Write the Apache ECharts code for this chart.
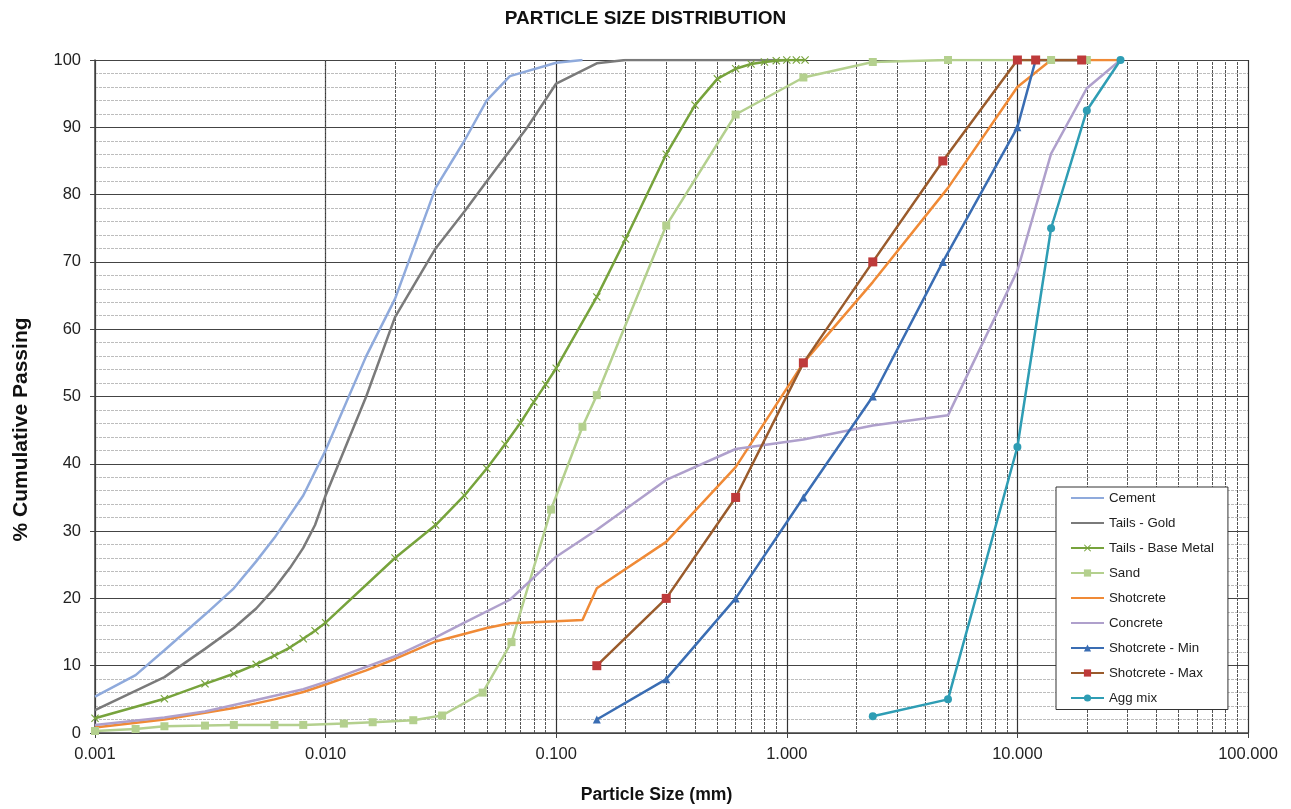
<!DOCTYPE html>
<html>
<head>
<meta charset="utf-8">
<script src="https://cdn.jsdelivr.net/npm/echarts@6/dist/echarts.min.js"></script>
<style>
html,body{margin:0;padding:0;background:#fff;}
#chart{width:1291px;height:809px;}
</style>
</head>
<body>
<div id="chart"></div>
<script>
// ---- data ----
var cementX = [0.001,0.0015,0.002,0.003,0.004,0.005,0.006,0.008,0.01,0.015,0.02,0.03,0.04,0.05,0.063,0.1,0.13];
var cementY = [5.4,8.6,12.3,17.6,21.5,25.5,29.0,35.3,42.0,56.0,64.5,81.0,88.0,94.0,97.6,99.6,100];

var goldX = [0.001,0.002,0.003,0.004,0.005,0.006,0.007,0.008,0.009,0.01,0.015,0.02,0.03,0.04,0.05,0.075,0.1,0.15,0.2,1.0];
var goldY = [3.4,8.3,12.5,15.6,18.5,21.5,24.5,27.5,30.9,35.3,50.0,61.8,72.0,77.5,82.0,90.0,96.5,99.5,100,100];

var baseX = [0.001,0.002,0.003,0.004,0.005,0.006,0.007,0.008,0.009,0.01,0.02,0.03,0.04,0.05,0.06,0.07,0.08,0.09,0.1,0.15,0.2,0.3,0.4,0.5,0.6,0.7,0.8,0.9,1.0,1.1,1.2];
var baseY = [2.2,5.1,7.3,8.8,10.2,11.5,12.7,14.0,15.2,16.4,26.0,30.9,35.3,39.3,42.9,46.1,49.2,51.8,54.2,64.8,73.4,86.0,93.3,97.2,98.7,99.4,99.7,99.9,100,100,100];

var sandX = [0.001,0.0015,0.002,0.003,0.004,0.006,0.008,0.012,0.016,0.024,0.032,0.048,0.064,0.095,0.13,0.15,0.3,0.6,1.18,2.36,5,14,20];
var sandY = [0.3,0.6,1.0,1.1,1.2,1.2,1.2,1.4,1.6,1.9,2.6,6.0,13.5,33.2,45.5,50.2,75.4,91.9,97.4,99.7,100,100,100];

var shotX = [0.001,0.002,0.003,0.004,0.005,0.006,0.008,0.01,0.015,0.02,0.03,0.05,0.063,0.1,0.13,0.15,0.3,0.6,1.18,2.36,5,10,14,20,28];
var shotY = [0.8,2.0,3.0,3.7,4.4,5.0,6.1,7.2,9.3,11.0,13.6,15.6,16.3,16.6,16.8,21.5,28.4,39.5,55.0,67.0,81.0,96.0,100,100,100];

var concX = [0.001,0.002,0.003,0.005,0.008,0.01,0.02,0.03,0.04,0.063,0.1,0.15,0.3,0.6,1.18,2.36,5,10,14,20,28];
var concY = [1.2,2.3,3.2,4.9,6.5,7.6,11.4,14.2,16.4,19.8,26.2,30.2,37.6,42.2,43.6,45.7,47.2,68.7,86.1,95.8,100];

var minX = [0.15,0.3,0.6,1.18,2.36,4.75,10,12,19];
var minY = [2,8,20,35,50,70,90,100,100];

var maxX = [0.15,0.3,0.6,1.18,2.36,4.75,10,12,19];
var maxY = [10,20,35,55,70,85,100,100,100];

var aggX = [2.36,5,10,14,20,28];
var aggY = [2.5,5,42.5,75,92.5,100];

var decades = [0.001,0.01,0.1,1,10];
var minorMultipliers = [2,3,4,5,6,7,8,9];
var yTicks = [0,10,20,30,40,50,60,70,80,90,100];

var legendNames = ['Cement','Tails - Gold','Tails - Base Metal','Sand','Shotcrete','Concrete','Shotcrete - Min','Shotcrete - Max','Agg mix'];
var noMarker = ['Cement','Tails - Gold','Shotcrete','Concrete'];

function pairs(xs, ys){ return xs.map(function(x,i){ return [x, ys[i]]; }); }

var minorLines = [];
decades.forEach(function(d){ minorMultipliers.forEach(function(m){ minorLines.push({xAxis: +(d*m).toPrecision(6)}); }); });

var xSymbol = 'path://M0,1L1,0L5,4L9,0L10,1L6,5L10,9L9,10L5,6L1,10L0,9L4,5Z';
var FONT = '"Liberation Sans", Arial, sans-serif';

function lineSeries(name, xs, ys, color, opts){
  var s = {
    name: name, type: 'line', data: pairs(xs, ys), z: 3,
    lineStyle: {color: color, width: 2.5},
    itemStyle: {color: color},
    symbol: 'none', showSymbol: false, animation: false
  };
  if (opts) for (var k in opts) s[k] = opts[k];
  return s;
}

var legendData = legendNames.map(function(n){
  return noMarker.indexOf(n) >= 0 ? {name: n, itemStyle: {opacity: 0}} : {name: n};
});

var chart = echarts.init(document.getElementById('chart'));
chart.setOption({
  backgroundColor: '#fff',
  animation: false,
  title: {
    text: 'PARTICLE SIZE DISTRIBUTION', left: 'center', top: 9,
    padding: [0, 0, 0, 9],
    textStyle: {fontFamily: FONT, fontSize: 19, fontWeight: 'bold', color: '#111'}
  },
  legend: {
    orient: 'vertical', left: 1056, top: 487, z: 20,
    backgroundColor: '#fff',
    borderColor: '#333', borderWidth: 1,
    padding: [4.5, 14, 5, 14],
    itemWidth: 33, itemHeight: 9, itemGap: 12,
    textStyle: {fontFamily: FONT, fontSize: 13.3, color: '#222'},
    data: legendData
  },
  grid: {left: 95, right: 43, top: 60, bottom: 69, containLabel: false},
  xAxis: {
    type: 'log', logBase: 10, min: 0.001, max: 100,
    name: 'Particle Size (mm)', nameLocation: 'middle', nameGap: 53,
    nameTextStyle: {fontFamily: FONT, fontSize: 17.6, fontWeight: 'bold', color: '#111', padding: [0, 30, 0, 0]},
    axisLine: {show: true, lineStyle: {color: '#444', width: 1.5}},
    axisTick: {show: true, length: 5, lineStyle: {color: '#444'}},
    axisLabel: {fontFamily: FONT, fontSize: 16.5, color: '#222', margin: 13,
      formatter: function(v){ return Number(v).toFixed(3); }},
    splitLine: {show: true, lineStyle: {color: '#333', width: 1.2}}
  },
  yAxis: {
    type: 'value', min: 0, max: 100, interval: 10,
    name: '% Cumulative Passing', nameLocation: 'middle', nameGap: 63,
    nameTextStyle: {fontFamily: FONT, fontSize: 21, fontWeight: 'bold', color: '#111', padding: [0, 66, 0, 0]},
    axisLine: {show: true, lineStyle: {color: '#444', width: 1.5}},
    axisTick: {show: true, length: 5, lineStyle: {color: '#444'}},
    axisLabel: {fontFamily: FONT, fontSize: 16.5, color: '#222', margin: 14},
    splitLine: {show: true, lineStyle: {color: '#444', width: 1.2}},
    minorTick: {show: false, splitNumber: 5},
    minorSplitLine: {show: true, lineStyle: {color: '#bdbdbd', width: 1, type: [3, 1]}}
  },
  series: [
    {
      name: 'gridMinor', type: 'line', data: [], z: 1, silent: true,
      markLine: {
        z: 1,
        silent: true, symbol: ['none','none'], animation: false,
        label: {show: false},
        lineStyle: {color: '#555', width: 1, type: [3, 1]},
        emphasis: {disabled: true},
        data: minorLines
      }
    },
    lineSeries('Cement', cementX, cementY, '#8FAADC'),
    lineSeries('Tails - Gold', goldX, goldY, '#7A7A7A'),
    lineSeries('Tails - Base Metal', baseX, baseY, '#77A33C', {symbol: xSymbol, showSymbol: true, symbolSize: 8}),
    lineSeries('Sand', sandX, sandY, '#B4D08E', {symbol: 'rect', showSymbol: true, symbolSize: 8}),
    lineSeries('Shotcrete', shotX, shotY, '#F08A36'),
    lineSeries('Concrete', concX, concY, '#AFA0CC'),
    lineSeries('Shotcrete - Min', minX, minY, '#3A6DB3', {symbol: 'triangle', showSymbol: true, symbolSize: 8}),
    lineSeries('Shotcrete - Max', maxX, maxY, '#9A5B2C', {symbol: 'rect', showSymbol: true, symbolSize: 9, itemStyle: {color: '#BE3A3A'}}),
    lineSeries('Agg mix', aggX, aggY, '#2E9DB4', {symbol: 'circle', showSymbol: true, symbolSize: 8})
  ]
});
</script>
</body>
</html>
